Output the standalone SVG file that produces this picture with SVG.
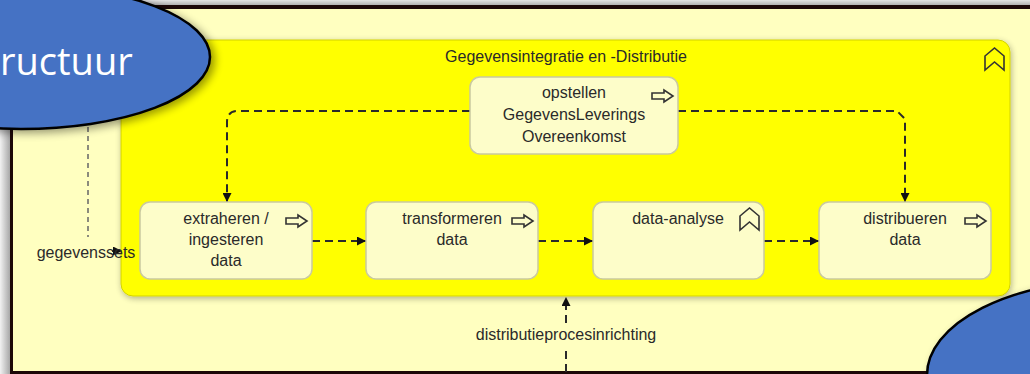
<svg xmlns="http://www.w3.org/2000/svg" width="1030" height="374" viewBox="0 0 1030 374">
<defs>
<style>
.lbl{font-family:"Liberation Sans",Arial,sans-serif;font-size:16px;fill:#2a2a2a;text-anchor:middle}
.node{fill:#fdfdc9;stroke:#c9c9a0;stroke-width:1.5}
.icon{fill:none;stroke:#333;stroke-width:1.6}
.conn{fill:none;stroke:#2a2a2a;stroke-width:2;stroke-dasharray:8 5}
.conn2{fill:none;stroke:#666;stroke-width:1.5;stroke-dasharray:5 4}
.ell{fill:#4472c4;stroke:#000;stroke-width:2.5}
</style>
<marker id="arr" viewBox="0 0 10 10" refX="10" refY="5" markerWidth="9" markerHeight="9" markerUnits="userSpaceOnUse" orient="auto"><path d="M0,0 L10,5 L0,10 Z" fill="#111"/></marker>
<filter id="sh" x="-5%" y="-10%" width="110%" height="125%"><feGaussianBlur in="SourceAlpha" stdDeviation="3"/><feOffset dx="1" dy="2"/><feComponentTransfer><feFuncA type="linear" slope="0.3"/></feComponentTransfer><feMerge><feMergeNode/><feMergeNode in="SourceGraphic"/></feMerge></filter>
<filter id="esh" x="-20%" y="-20%" width="140%" height="140%"><feGaussianBlur in="SourceAlpha" stdDeviation="4"/><feOffset dx="4" dy="3"/><feComponentTransfer><feFuncA type="linear" slope="0.4"/></feComponentTransfer><feMerge><feMergeNode/><feMergeNode in="SourceGraphic"/></feMerge></filter>
<linearGradient id="gtop" x1="0" y1="0" x2="0" y2="1"><stop offset="0" stop-color="#e4e4e4"/><stop offset="1" stop-color="#a8a8a8"/></linearGradient>
<linearGradient id="gleft" x1="0" y1="0" x2="1" y2="0"><stop offset="0" stop-color="#f2f2f2"/><stop offset="1" stop-color="#a0a0a0"/></linearGradient>
</defs>

<g id="frame">
<rect x="0" y="0" width="1030" height="374" fill="#ffffc0"/>
<rect x="0" y="0" width="1030" height="6" fill="url(#gtop)"/>
<rect x="0" y="0" width="11" height="374" fill="url(#gleft)"/>
<rect x="10" y="5" width="1020" height="4" fill="#1c0808"/>
<rect x="10" y="5" width="3" height="369" fill="#1c0808"/>
<rect x="10" y="371" width="1020" height="3" fill="#1c0808"/>
</g>

<g id="group-gegevensintegratie">
<rect x="121" y="40" width="889" height="256" rx="12" fill="#ffff00" stroke="#d2d200" stroke-width="1" filter="url(#sh)"/>
<text class="lbl" x="566" y="62">Gegevensintegratie en -Distributie</text>
<path class="icon" d="M985,70 V56 L994.5,48 L1004,56 V70 L994.5,62 Z"/>
</g>

<g id="connectors">
<path class="conn" d="M470,111 H238 Q227,111 227,122 V202" marker-end="url(#arr)"/>
<path class="conn" d="M678,111 H897 L905,119 V202" marker-end="url(#arr)"/>
<path class="conn" d="M312,241 H366" marker-end="url(#arr)"/>
<path class="conn" d="M538,241 H593" marker-end="url(#arr)"/>
<path class="conn" d="M764,241 H819" marker-end="url(#arr)"/>
<path class="conn2" d="M88,118 V237"/>
<path class="conn" d="M112,251 H122" marker-end="url(#arr)"/>
<path class="conn" d="M566,372 V348"/>
<path class="conn" d="M566,323 V297" marker-end="url(#arr)"/>
<text class="lbl" x="86" y="258">gegevenssets</text>
<text class="lbl" x="566" y="340">distributieprocesinrichting</text>
</g>

<g id="node-opstellen">
<rect class="node" x="470" y="77" width="208" height="77" rx="10"/>
<text class="lbl" x="574" y="98">opstellen</text>
<text class="lbl" x="574" y="120">GegevensLeverings</text>
<text class="lbl" x="574" y="142">Overeenkomst</text>
<path class="icon" d="M652,93 H664 V90 L673,96 L664,102 V99 H652 Z"/>
</g>

<g id="node-extraheren">
<rect class="node" x="140" y="202" width="172" height="77" rx="10"/>
<text class="lbl" x="226" y="224">extraheren /</text>
<text class="lbl" x="226" y="245">ingesteren</text>
<text class="lbl" x="226" y="266">data</text>
<path class="icon" d="M286,218 H298 V215 L307,221 L298,227 V224 H286 Z"/>
</g>

<g id="node-transformeren">
<rect class="node" x="366" y="202" width="172" height="77" rx="10"/>
<text class="lbl" x="452" y="224">transformeren</text>
<text class="lbl" x="452" y="245">data</text>
<path class="icon" d="M512,218 H524 V215 L533,221 L524,227 V224 H512 Z"/>
</g>

<g id="node-data-analyse">
<rect class="node" x="593" y="202" width="171" height="77" rx="10"/>
<text class="lbl" x="678" y="224">data-analyse</text>
<path class="icon" d="M740,230 V216 L749.5,208 L759,216 V230 L749.5,222 Z"/>
</g>

<g id="node-distribueren">
<rect class="node" x="819" y="202" width="172" height="77" rx="10"/>
<text class="lbl" x="905" y="224">distribueren</text>
<text class="lbl" x="905" y="245">data</text>
<path class="icon" d="M965,218 H977 V215 L986,221 L977,227 V224 H965 Z"/>
</g>

<g id="overlay-ellipse-left">
<ellipse class="ell" cx="21" cy="57" rx="189" ry="72" filter="url(#esh)"/>
<text x="0" y="75" font-family="'Open Sans','Noto Sans',sans-serif" font-size="38" fill="#ffffff">ructuur</text>
</g>

<g id="overlay-ellipse-right">
<ellipse class="ell" cx="1116" cy="375" rx="189" ry="95" filter="url(#esh)"/>
</g>
</svg>
